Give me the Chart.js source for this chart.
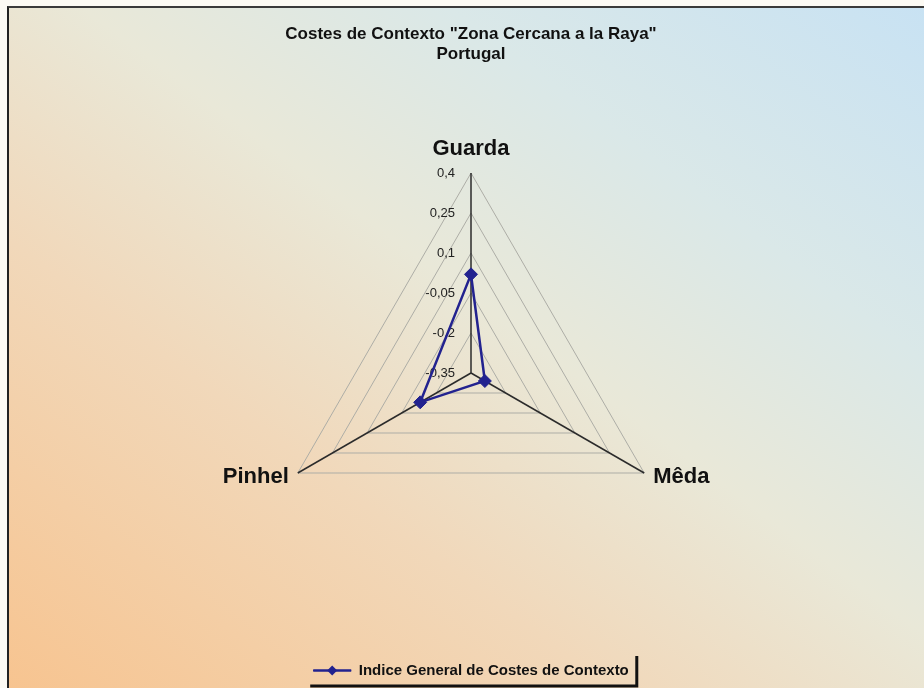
<!DOCTYPE html>
<html>
<head>
<meta charset="utf-8">
<script src="https://cdn.jsdelivr.net/npm/chart.js@4"></script>
<style>
  html, body { margin: 0; padding: 0; background: #FCFAF4; }
  #frame {
    position: absolute; left: 7px; top: 6px; width: 917px; height: 682px;
    border-top: 2px solid #3a3a3a; border-left: 2px solid #222;
    background: linear-gradient(to top right, #F7C490 0%, #F1D8BA 33%, #E9E8D8 54%, #DAE8E8 74%, #C8E2F3 100%);
  }
  #wrap { position: absolute; left: 0; top: 0; width: 924px; height: 688px; }
</style>
</head>
<body>
<div id="frame"></div>
<div id="wrap"><canvas id="radarChart" width="924" height="688"></canvas></div>
<script>
const categories = ["Guarda", "Mêda", "Pinhel"];
const indiceValues = [0.02, -0.29, -0.13];
const tickLabels = ["-0,35", "-0,2", "-0,05", "0,1", "0,25", "0,4"];
const seriesName = "Indice General de Costes de Contexto";
const titleLines = ['Costes de Contexto "Zona Cercana a la Raya"', "Portugal"];

const lineColor = "#22228F";

// tick labels, axis names and the legend frame are drawn by hand
const overlay = {
  id: "overlay",
  beforeDatasetsDraw(chart) {
    const ctx = chart.ctx;
    const r = chart.scales.r;
    ctx.save();
    ctx.fillStyle = "#222";
    ctx.font = "13px Arial";
    ctx.textAlign = "right";
    ctx.textBaseline = "middle";
    r.ticks.forEach((t, i) => {
      const d = r.getDistanceFromCenterForValue(t.value);
      ctx.fillText(t.label || tickLabels[i], r.xCenter - 16, r.yCenter - d);
    });

    ctx.fillStyle = "#111";
    ctx.font = "bold 22px Arial";
    ctx.textBaseline = "alphabetic";
    categories.forEach((name, i) => {
      const p = r.getPointPosition(i, r.drawingArea);
      if (Math.abs(p.x - r.xCenter) < 2) {
        ctx.textAlign = "center";
        ctx.fillText(name, p.x, p.y - 18);
      } else if (p.x > r.xCenter) {
        ctx.textAlign = "left";
        ctx.fillText(name, p.x + 9, p.y + 10);
      } else {
        ctx.textAlign = "right";
        ctx.fillText(name, p.x - 9, p.y + 10);
      }
    });
    ctx.restore();
  },
  afterDraw(chart) {
    const ctx = chart.ctx;
    const box = chart.legend.legendHitBoxes[0];
    if (!box) return;
    ctx.save();
    const cx = box.left + 19, cy = box.top + box.height / 2;
    // legend line + diamond
    ctx.strokeStyle = lineColor;
    ctx.lineWidth = 2.5;
    ctx.beginPath();
    ctx.moveTo(box.left, cy);
    ctx.lineTo(box.left + 38, cy);
    ctx.stroke();
    ctx.fillStyle = lineColor;
    ctx.beginPath();
    ctx.moveTo(cx, cy - 5);
    ctx.lineTo(cx + 5, cy);
    ctx.lineTo(cx, cy + 5);
    ctx.lineTo(cx - 5, cy);
    ctx.closePath();
    ctx.fill();
    // shadowed frame
    const right = box.left + box.width + 8;
    ctx.strokeStyle = "#111";
    ctx.lineWidth = 3;
    ctx.beginPath();
    ctx.moveTo(right, box.top - 7);
    ctx.lineTo(right, 686);
    ctx.lineTo(box.left - 3, 686);
    ctx.stroke();
    ctx.restore();
  }
};

new Chart(document.getElementById("radarChart"), {
  type: "radar",
  data: {
    labels: categories,
    datasets: [{
      label: seriesName,
      data: indiceValues,
      borderColor: lineColor,
      borderWidth: 2.5,
      backgroundColor: "rgba(0,0,0,0)",
      fill: false,
      pointStyle: "rectRot",
      pointRadius: 6.5,
      pointBackgroundColor: lineColor,
      pointBorderColor: lineColor,
      pointBorderWidth: 1
    }]
  },
  options: {
    responsive: false,
    animation: false,
    layout: { padding: { left: 271, right: 253, top: 0, bottom: 0 } },
    plugins: {
      title: {
        display: true,
        text: titleLines,
        color: "#111",
        font: { family: "Arial", size: 17, weight: "bold", lineHeight: 1.15 },
        padding: { top: 25, bottom: 21 }
      },
      legend: {
        position: "bottom",
        labels: {
          color: "#111",
          font: { family: "Arial", size: 15, weight: "bold" },
          usePointStyle: true,
          pointStyle: "line",
          pointStyleWidth: 38,
          padding: 1
        }
      },
      tooltip: { enabled: false }
    },
    scales: {
      r: {
        min: -0.35,
        max: 0.4,
        ticks: {
          stepSize: 0.15,
          display: false,
          callback: (v, i) => tickLabels[i]
        },
        grid: { color: "#ADADA6", lineWidth: 1 },
        angleLines: { color: "#2B2B2B", lineWidth: 1.5 },
        pointLabels: { display: false }
      }
    }
  },
  plugins: [overlay]
});
</script>
</body>
</html>
